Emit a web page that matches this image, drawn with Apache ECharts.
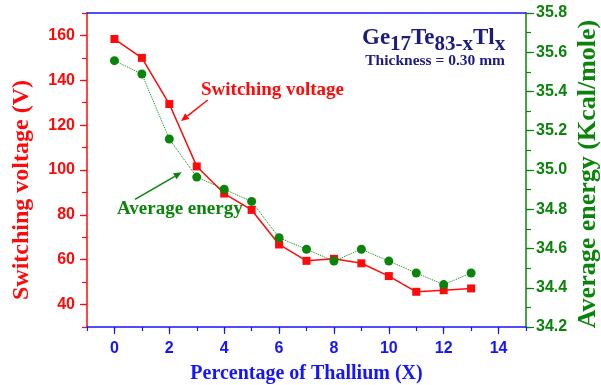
<!DOCTYPE html>
<html>
<head>
<meta charset="utf-8">
<script src="https://cdn.jsdelivr.net/npm/echarts@6/dist/echarts.min.js"></script>
<style>
html,body{margin:0;padding:0;background:#fff;}
#chart{width:601px;height:385px;}
</style>
</head>
<body>
<div id="chart"></div>
<script>
// Data
var thallium = [0, 1, 2, 3, 4, 5, 6, 7, 8, 9, 10, 11, 12, 13];
var switchingVoltage = [158.4, 150.0, 129.4, 101.6, 89.5, 82.2, 66.8, 59.5, 60.4, 58.4, 52.7, 45.7, 46.4, 47.2];
var averageEnergy = [35.557, 35.489, 35.158, 34.964, 34.902, 34.840, 34.655, 34.596, 34.536, 34.596, 34.536, 34.475, 34.416, 34.475];
var xMajorTicks = [0, 2, 4, 6, 8, 10, 12, 14];
var leftMajorTicks = [40, 60, 80, 100, 120, 140, 160];
var rightMajorTicks = [34.2, 34.4, 34.6, 34.8, 35.0, 35.2, 35.4, 35.6, 35.8];

var RED = '#ff0a0a';
var GREEN = '#0a840a';
var BLUE = '#1414ff';
var NAVY = '#1c1c80';
var SERIF = '"Liberation Serif", "Times New Roman", serif';
var labelFont = {fontFamily: 'Liberation Sans, Arial, sans-serif', fontWeight: 'bold', fontSize: 16};

function pairs(xs, ys) { return xs.map(function (x, i) { return [x, ys[i]]; }); }

var chart = echarts.init(document.getElementById('chart'), null, {renderer: 'canvas'});
var option = {
  backgroundColor: '#ffffff',
  animation: false,
  grid: {left: 87, right: 75, top: 13, bottom: 58, containLabel: false, outerBoundsMode: 'none'},
  xAxis: [
    {
      type: 'value', min: -1, max: 15, interval: 1, position: 'bottom',
      axisLine: {show: true, onZero: false, lineStyle: {color: BLUE, width: 1.5}},
      axisTick: {show: true, length: 4, lineStyle: {color: BLUE, width: 1.2}},
      axisLabel: Object.assign({color: BLUE, margin: 14, formatter: function (v) { return (Math.round(v) % 2 === 0 && v >= 0) ? String(Math.round(v)) : ''; }}, labelFont),
      splitLine: {show: false},
      name: 'Percentage of Thallium (X)', nameLocation: 'middle', nameGap: 37,
      nameTextStyle: {color: BLUE, fontFamily: 'Liberation Serif, Times New Roman, serif', fontWeight: 'bold', fontSize: 20}
    },
    {
      type: 'value', min: -1, max: 15, position: 'bottom',
      axisLine: {show: false, onZero: false},
      axisTick: {show: true, length: 7, customValues: xMajorTicks, lineStyle: {color: BLUE, width: 1.2}},
      axisLabel: {show: false},
      splitLine: {show: false}
    },
    {
      type: 'value', min: -1, max: 15, position: 'top',
      axisLine: {show: true, onZero: false, lineStyle: {color: BLUE, width: 1.5}},
      axisTick: {show: false}, axisLabel: {show: false}, splitLine: {show: false}
    }
  ],
  yAxis: [
    {
      type: 'value', min: 30, max: 170, interval: 10, position: 'left',
      axisLine: {show: true, onZero: false, lineStyle: {color: RED, width: 1.5}},
      axisTick: {show: true, length: 5, lineStyle: {color: RED, width: 1.2}},
      axisLabel: Object.assign({color: RED, margin: 12, formatter: function (v) { return (Math.round(v) % 20 === 0) ? String(Math.round(v)) : ''; }}, labelFont),
      splitLine: {show: false}
    },
    {
      type: 'value', min: 34.2, max: 35.8, interval: 0.1, position: 'right',
      axisLine: {show: true, onZero: false, lineStyle: {color: GREEN, width: 1.5}},
      axisTick: {show: true, length: 5, lineStyle: {color: GREEN, width: 1.2}},
      axisLabel: Object.assign({color: GREEN, margin: 10, formatter: function (v) { return (Math.round(v * 10) % 2 === 0) ? v.toFixed(1) : ''; }}, labelFont),
      splitLine: {show: false}
    },
    {
      type: 'value', min: 30, max: 170, position: 'left',
      axisLine: {show: false, onZero: false},
      axisTick: {show: true, length: 7, customValues: leftMajorTicks, lineStyle: {color: RED, width: 1.2}},
      axisLabel: {show: false}, splitLine: {show: false}
    },
    {
      type: 'value', min: 34.2, max: 35.8, position: 'right',
      axisLine: {show: false, onZero: false},
      axisTick: {show: true, length: 8, customValues: rightMajorTicks, lineStyle: {color: GREEN, width: 1.2}},
      axisLabel: {show: false}, splitLine: {show: false}
    }
  ],
  series: [
    {
      name: 'Switching voltage', type: 'line', xAxisIndex: 0, yAxisIndex: 0,
      data: pairs(thallium, switchingVoltage),
      symbol: 'rect', symbolSize: 8,
      lineStyle: {color: RED, width: 1.5},
      itemStyle: {color: RED}, z: 3
    },
    {
      name: 'Average energy', type: 'line', xAxisIndex: 0, yAxisIndex: 1,
      data: pairs(thallium, averageEnergy),
      symbol: 'circle', symbolSize: 9,
      lineStyle: {color: GREEN, width: 1, type: 'dotted'},
      itemStyle: {color: GREEN}, z: 4
    }
  ],
  graphic: [
    {
      type: 'text', x: 22, y: 190, rotation: Math.PI / 2,
      style: {text: 'Switching voltage (V)', fill: RED, font: 'bold 24px ' + SERIF, textAlign: 'center', textVerticalAlign: 'middle'}
    },
    {
      type: 'text', x: 588, y: 174, rotation: Math.PI / 2,
      style: {text: 'Average energy (Kcal/mole)', fill: GREEN, font: 'bold 26px ' + SERIF, textAlign: 'center', textVerticalAlign: 'middle'}
    },
    {
      type: 'text', x: 362, y: 22,
      style: {
        text: '{b|Ge}{s|17}{b|Te}{s|83-x}{b|Tl}{s|x}',
        rich: {
          b: {fontSize: 23, fontWeight: 'bold', fontFamily: 'Liberation Serif, Times New Roman, serif', fill: NAVY, color: NAVY},
          s: {fontSize: 21, fontWeight: 'bold', fontFamily: 'Liberation Serif, Times New Roman, serif', fill: NAVY, color: NAVY, padding: [12, 0, 0, 0]}
        }
      }
    },
    {
      type: 'text', x: 505, y: 61,
      style: {text: 'Thickness = 0.30 mm', fill: NAVY, font: 'bold 15.5px ' + SERIF, textAlign: 'right', textVerticalAlign: 'middle'}
    },
    {
      type: 'text', x: 201, y: 90,
      style: {text: 'Switching voltage', fill: RED, font: 'bold 19px ' + SERIF, textAlign: 'left', textVerticalAlign: 'middle'}
    },
    {
      type: 'text', x: 117, y: 209,
      style: {text: 'Average energy', fill: GREEN, font: 'bold 19px ' + SERIF, textAlign: 'left', textVerticalAlign: 'middle'}
    },
    {type: 'line', shape: {x1: 207.7, y1: 100, x2: 187.3, y2: 116.1}, style: {stroke: RED, lineWidth: 1.5}},
    {type: 'polygon', shape: {points: [[181, 121], [189.4, 118.9], [185.2, 113.3]]}, style: {fill: RED}},
    {type: 'line', shape: {x1: 135, y1: 199.3, x2: 174.8, y2: 176.3}, style: {stroke: GREEN, lineWidth: 1.5}},
    {type: 'polygon', shape: {points: [[181.7, 172.3], [176.5, 179.3], [173.0, 173.3]]}, style: {fill: GREEN}}
  ]
};
chart.setOption(option);
</script>
</body>
</html>
